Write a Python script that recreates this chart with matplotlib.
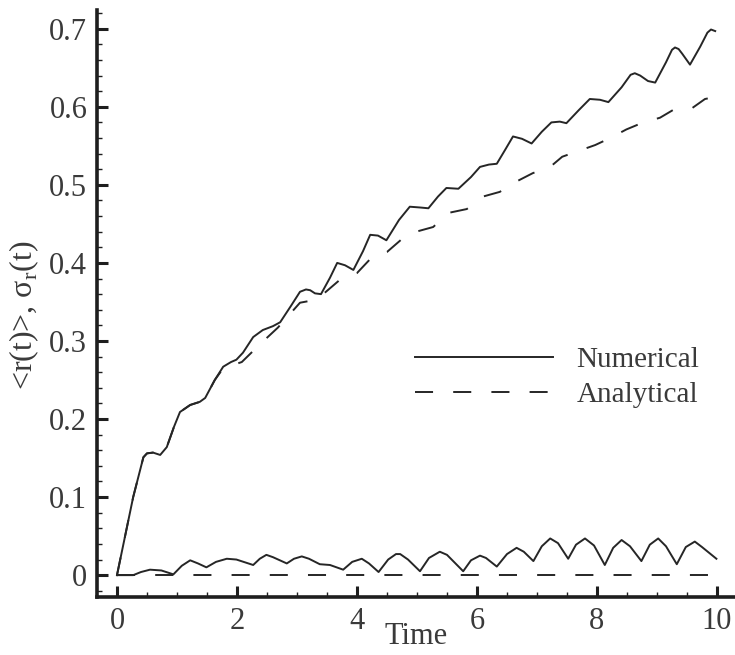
import numpy as np
import matplotlib
matplotlib.use('Agg')
import matplotlib.pyplot as plt
from matplotlib.ticker import MultipleLocator

# <r(t)> numerical
t_num = [0, 0.27, 0.44, 0.5, 0.6, 0.72, 0.83, 0.95, 1.05, 1.22, 1.38, 1.47, 1.63,
         1.77, 1.9, 1.99, 2.1, 2.27, 2.43, 2.6, 2.72, 2.9, 3.05, 3.15, 3.22, 3.3,
         3.4, 3.55, 3.67, 3.8, 3.94, 4.1, 4.22, 4.35, 4.49, 4.7, 4.88, 5.05,
         5.19, 5.35, 5.49, 5.69, 5.9, 6.05, 6.2, 6.33, 6.47, 6.6, 6.75, 6.91,
         7.08, 7.24, 7.38, 7.49, 7.7, 7.88, 8.05, 8.19, 8.41, 8.56, 8.63, 8.72,
         8.85, 8.97, 9.15, 9.25, 9.3, 9.36, 9.42, 9.55, 9.72, 9.84, 9.9, 9.97]
r_num = [0, 0.1, 0.151, 0.156, 0.157, 0.154, 0.164, 0.19, 0.209, 0.218, 0.222,
         0.227, 0.25, 0.267, 0.273, 0.276, 0.285, 0.305, 0.314, 0.319, 0.324,
         0.345, 0.363, 0.366, 0.365, 0.361, 0.36, 0.381, 0.40, 0.397, 0.391,
         0.415, 0.436, 0.435, 0.429, 0.455, 0.472, 0.471, 0.47, 0.485, 0.496,
         0.495, 0.51, 0.523, 0.526, 0.527, 0.545, 0.562, 0.559, 0.553, 0.568,
         0.58, 0.581, 0.579, 0.596, 0.61, 0.609, 0.606, 0.625, 0.641, 0.643,
         0.64, 0.633, 0.631, 0.657, 0.673, 0.676, 0.674, 0.668, 0.654, 0.677,
         0.695, 0.699, 0.697]

# <r(t)> analytical
t_ana = [0, 0.27, 0.44, 0.5, 0.6, 0.72, 0.83, 0.95, 1.05, 1.22, 1.38, 1.47, 1.63,
         1.77, 2.08, 2.4, 2.68, 3.05, 3.33, 3.77, 4.0, 4.27, 4.5, 4.77, 4.94,
         5.27, 5.52, 5.83, 6.1, 6.38, 6.6, 6.93, 7.22, 7.42, 7.97, 8.22, 8.49,
         8.74, 9.05, 9.27, 9.58, 9.8, 10.0]
r_ana = [0, 0.1, 0.151, 0.156, 0.157, 0.154, 0.164, 0.19, 0.209, 0.218, 0.222,
         0.227, 0.25, 0.265, 0.273, 0.297, 0.317, 0.349, 0.353, 0.382, 0.387,
         0.409, 0.414, 0.432, 0.439, 0.446, 0.464, 0.469, 0.485, 0.491, 0.502,
         0.515, 0.523, 0.536, 0.551, 0.56, 0.571, 0.579, 0.586, 0.596, 0.598,
         0.61, 0.613]

# sigma_r numerical
t_sig = [0, 0.27, 0.4, 0.55, 0.74, 0.94, 1.08, 1.22, 1.35, 1.49, 1.65, 1.83,
         1.99, 2.27, 2.38, 2.49, 2.6, 2.83, 2.95, 3.08, 3.2, 3.38, 3.55, 3.77,
         3.92, 4.08, 4.2, 4.36, 4.52, 4.65, 4.72, 4.85, 5.05, 5.2, 5.38, 5.5,
         5.77, 5.9, 6.05, 6.15, 6.33, 6.5, 6.66, 6.78, 6.94, 7.08, 7.22, 7.35,
         7.52, 7.65, 7.8, 7.95, 8.13, 8.27, 8.41, 8.55, 8.74, 8.88, 9.02, 9.15,
         9.33, 9.48, 9.63, 9.75, 9.99]
s_num = [0, 0, 0.004, 0.007, 0.006, 0.001, 0.012, 0.019, 0.015, 0.010, 0.017,
         0.021, 0.020, 0.013, 0.021, 0.026, 0.023, 0.015, 0.021, 0.024, 0.021,
         0.014, 0.013, 0.007, 0.017, 0.021, 0.015, 0.004, 0.020, 0.027, 0.027,
         0.020, 0.005, 0.022, 0.030, 0.026, 0.005, 0.019, 0.025, 0.022, 0.011,
         0.027, 0.035, 0.030, 0.018, 0.037, 0.047, 0.041, 0.021, 0.039, 0.047,
         0.038, 0.013, 0.035, 0.045, 0.037, 0.018, 0.039, 0.047, 0.037, 0.014,
         0.036, 0.043, 0.036, 0.021]

# sigma_r analytical
t_sig_ana = [0, 10]
s_ana = [0, 0]

plt.rcParams['font.family'] = ['Liberation Serif', 'DejaVu Serif']
plt.rcParams['mathtext.fontset'] = 'custom'
plt.rcParams['mathtext.rm'] = 'Liberation Serif'

line_col = '#262626'
text_col = '#3a3a3a'

fig = plt.figure(figsize=(7.35, 6.55), dpi=100)
ax = fig.add_axes([97 / 735, 58 / 655, 638 / 735, 587 / 655])

lw = 1.4
dash = (0, (13 / lw, 14.5 / lw))
ax.plot(t_num, r_num, color=line_col, lw=lw, label='Numerical')
ax.plot(t_ana, r_ana, color=line_col, lw=lw, ls=dash, label='Analytical')
ax.plot(t_sig, s_num, color=line_col, lw=lw)
ax.plot(t_sig_ana, s_ana, color=line_col, lw=lw, ls=dash)

ax.set_xlim(-0.333, 10.3)
ax.set_ylim(-0.028, 0.724)

for s in ['top', 'right']:
    ax.spines[s].set_visible(False)
for s in ['left', 'bottom']:
    ax.spines[s].set_linewidth(2.6)
    ax.spines[s].set_color('#1e1e1e')

ax.xaxis.set_minor_locator(MultipleLocator(0.5))
ax.yaxis.set_minor_locator(MultipleLocator(0.02))
ax.set_xticks([0, 2, 4, 6, 8, 10])
ax.set_xticklabels(['0', '2', '4', '6', '8', '10'])
ax.set_yticks([0, 0.1, 0.2, 0.3, 0.4, 0.5, 0.6, 0.7])
ax.set_yticklabels(['0', '0.1', '0.2', '0.3', '0.4', '0.5', '0.6', '0.7'])

ax.tick_params(which='major', direction='in', length=8, width=2.2,
               color='#1e1e1e', labelsize=22, labelcolor=text_col, pad=7)
ax.tick_params(which='minor', direction='in', length=3.5, width=1,
               color='#1e1e1e')

ax.set_xlabel('Time', fontsize=22, color=text_col)
ax.xaxis.set_label_coords(0.5, -0.043)
ax.set_ylabel(r'<r(t)>, σ$_{\mathrm{r}}$(t)', fontsize=23, color=text_col)
ax.yaxis.set_label_coords(-0.087, 0.48)

leg = ax.legend(loc='center left', bbox_to_anchor=(0.498, 0.374),
                frameon=False, fontsize=21, handlelength=4.73,
                handletextpad=0.82, labelspacing=0.29, borderpad=0,
                borderaxespad=0)
for txt in leg.get_texts():
    txt.set_color(text_col)

fig.savefig('out.png', dpi=100)
